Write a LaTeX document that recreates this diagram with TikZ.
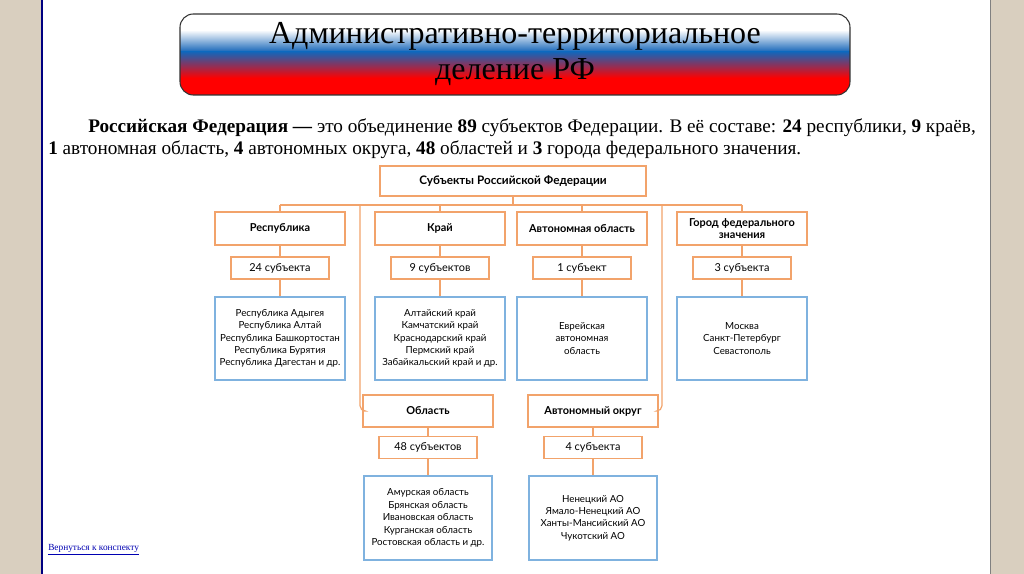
\documentclass[tikz,border=0pt]{standalone}
\usepackage{fontspec}
\setmainfont{Liberation Serif}
\newfontfamily\dsans{Lato}
\usetikzlibrary{positioning}
\definecolor{org}{HTML}{F2A36B}
\definecolor{blu}{HTML}{7FB2DF}
\definecolor{bg}{HTML}{D9CFBF}
\definecolor{ttlblue}{HTML}{1565B8}
\begin{document}
\begin{tikzpicture}[x=0.75pt,y=-0.75pt,
  ob/.style={draw=org,line width=0.9pt,fill=white,font=\dsans\bfseries\fontsize{8.2}{9.5}\selectfont,align=center,inner sep=0pt},
  cb/.style={draw=org,line width=0.9pt,fill=white,font=\dsans\fontsize{8.2}{9.5}\selectfont,inner sep=0pt},
  lb/.style={draw=blu,line width=0.9pt,fill=white,font=\dsans\fontsize{7.3}{9.3}\selectfont,align=center,inner sep=0pt},
  ln/.style={draw=org,line width=0.9pt}]
\useasboundingbox (0,0) rectangle (1024,574);
\fill[bg] (0,0) rectangle (1024,574);
\fill[white] (42,0) rectangle (990,574);
\draw[color=blue!50!black,line width=0.8pt] (42,0) -- (42,574);
\draw[gray,line width=0.6pt] (990,0) -- (990,574);
% title
\begin{scope}
\clip[rounded corners=10pt] (180,14) rectangle (850,95);
\fill[white] (180,14) rectangle (850,30);
\shade[top color=white,bottom color=ttlblue] (180,30) rectangle (850,52);
\shade[top color=ttlblue,bottom color=red] (180,52) rectangle (850,78);
\fill[red] (180,78) rectangle (850,95);
\end{scope}
\draw[rounded corners=10pt,draw=gray!40!black,line width=0.8pt] (180,14) rectangle (850,95);
\node[font=\fontsize{24}{27.5}\selectfont,align=center] (title) at (515,54) {Административно-территориальное\\деление РФ};
% paragraph
\node[anchor=west,font=\fontsize{14.4}{16}\selectfont,inner sep=0pt] (p1) at (88,128) {\textbf{Российская Федерация —} это объединение \textbf{89} субъектов Федерации. В её составе: \textbf{24} республики, \textbf{9} краёв,};
\node[anchor=west,font=\fontsize{14.4}{16}\selectfont,inner sep=0pt] (p2) at (48,150) {\textbf{1} автономная область, \textbf{4} автономных округа, \textbf{48} областей и \textbf{3} города федерального значения.};
% nodes
\node[ob,minimum width=199.5pt,minimum height=22.5pt,font=\dsans\bfseries\fontsize{8.8}{10}\selectfont] (top) at (513,181) {Субъекты Российской Федерации};
\coordinate (hl) at (280,205); \coordinate (hr) at (742,205);
\coordinate (vl) at (360,205); \coordinate (vr) at (662,205);
\draw[ln] (top.south) -- (513,205);
\draw[ln] (hl) -- (hr);
\foreach \n/\x/\t/\c/\l in {r/280/Республика/24 субъекта/{Республика Адыгея\\Республика Алтай\\Республика Башкортостан\\Республика Бурятия\\Республика Дагестан и др.},
  k/440/Край/9 субъектов/{Алтайский край\\Камчатский край\\Краснодарский край\\Пермский край\\Забайкальский край и др.},
  a/582/Автономная область/1 субъект/{Еврейская\\автономная\\область},
  g/742/{Город федерального\\значения}/3 субъекта/{Москва\\Санкт-Петербург\\Севастополь}}{
  \node[ob,minimum width=97.5pt,minimum height=24.75pt] (\n1) at (\x,228.5) {\t};
  \node[cb,minimum width=73.5pt,minimum height=16.5pt] (\n2) at (\x,268) {\c};
  \node[lb,minimum width=97.5pt,minimum height=62.25pt] (\n3) at (\x,338.5) {\l};
  \draw[ln] (\x,205) -- (\n1.north);
  \draw[ln] (\n1.south) -- (\n2.north);
  \draw[ln] (\n2.south) -- (\n3.north);
}
\foreach \n/\x/\t/\c/\l in {o/428/Область/48 субъектов/{Амурская область\\Брянская область\\Ивановская область\\Курганская область\\Ростовская область и др.},
  ao/593/Автономный округ/4 субъекта/{Ненецкий АО\\Ямало-Ненецкий АО\\Ханты-Мансийский АО\\Чукотский АО}}{
  \node[ob,minimum width=97.5pt,minimum height=24pt] (\n1) at (\x,411) {\t};
  \node[cb,minimum width=73.5pt,minimum height=16.5pt] (\n2) at (\x,447.5) {\c};
  \node[lb,minimum width=96pt,minimum height=63pt] (\n3) at (\x,518) {\l};
  \draw[ln] (\n1.south) -- (\n2.north);
  \draw[ln] (\n2.south) -- (\n3.north);
}
\draw[ln,rounded corners=4pt] (vl) |- (o1.west);
\draw[ln,rounded corners=4pt] (vr) |- (ao1.east);
\node[anchor=west,font=\fontsize{7}{8}\selectfont,text=blue!70!black,inner sep=0pt] (link) at (48,550) {\underline{Вернуться к конспекту}};
\end{tikzpicture}
\end{document}
